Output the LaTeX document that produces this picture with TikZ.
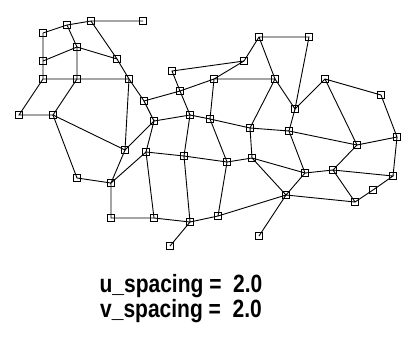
\documentclass[tikz,border=0pt]{standalone}
\usepackage{fontspec}
\newfontfamily\spacingfont[FakeStretch=0.84]{Liberation Sans}
\usepackage{tikz}

\begin{document}
\begin{tikzpicture}[
    x=1pt, y=-1pt,
    vertex/.style={draw, rectangle, minimum size=7pt, inner sep=0pt, line width=1pt},
    edge/.style={line width=0.9pt},
    caption/.style={font=\spacingfont\bfseries\fontsize{25}{25}\selectfont, inner sep=0pt, anchor=base}
]
\useasboundingbox (0,0) rectangle (409,338);

% Left part of the mesh
\foreach \name/\x/\y in {A/143/21, B/91/21, C/67/25, D/43/33, E/77/47, F/43/61,
    G/117/59, H/43/79, I/77/79, J/129/79, K/172/71, L/180/91, M/144/101,
    N/19/115, O/53/115, P/154/121, Q/190/115, R/125/150, S/146/152, T/184/156,
    U/77/178, V/111/183, W/111/218, X/154/218, Y/190/222, Z/170/246}
    \node[vertex] (\name) at (\x,\y) {};

% Right part of the mesh
\foreach \name/\x/\y in {a1/259/37, a2/309/37, a3/244/61, a4/214/79, a5/275/79,
    a6/325/79, a7/381/95, a8/295/109, a9/210/119, a10/250/128, a11/289/131,
    a12/357/145, a13/397/137, b1/227/162, b2/252/158, b3/305/173, b4/333/170,
    b5/393/176, b6/373/190, b7/286/195, b8/355/202, b9/218/216, b10/259/236}
    \node[vertex] (\name) at (\x,\y) {};

% Connections (left)
\draw[edge] (A.center) -- (B.center) -- (C.center) -- (D.center) -- (F.center) -- (H.center) -- (N.center) -- (O.center)
    -- (U.center) -- (V.center) -- (W.center) -- (X.center) -- (Y.center) -- (Z.center);
\draw[edge] (C.center) -- (E.center) -- (F.center);
\draw[edge] (B.center) -- (G.center) -- (E.center) -- (I.center);
\draw[edge] (H.center) -- (I.center) -- (J.center) -- (G.center);
\draw[edge] (I.center) -- (O.center) -- (R.center) -- (J.center);
\draw[edge] (R.center) -- (V.center) -- (S.center) -- (X.center);
\draw[edge] (J.center) -- (M.center) -- (L.center) -- (K.center) -- (a3.center);
\draw[edge] (M.center) -- (P.center) -- (Q.center) -- (L.center);
\draw[edge] (R.center) -- (P.center) -- (S.center) -- (T.center) -- (Y.center);
\draw[edge] (Q.center) -- (T.center) -- (b1.center);

% Connections (right)
\draw[edge] (a3.center) -- (a1.center) -- (a2.center) -- (a8.center) -- (a5.center) -- (a1.center);
\draw[edge] (Q.center) -- (a9.center) -- (a4.center) -- (L.center);
\draw[edge] (a3.center) -- (a4.center) -- (a5.center) -- (a10.center) -- (a9.center);
\draw[edge] (a10.center) -- (a11.center) -- (a8.center) -- (a6.center) -- (a7.center) -- (a13.center) -- (a12.center) -- (a6.center);
\draw[edge] (a11.center) -- (a12.center);
\draw[edge] (a9.center) -- (b1.center) -- (b2.center) -- (b3.center) -- (b4.center) -- (b5.center) -- (b6.center) -- (b8.center) -- (b4.center);
\draw[edge] (a10.center) -- (b2.center);
\draw[edge] (a11.center) -- (b3.center);
\draw[edge] (a12.center) -- (b4.center);
\draw[edge] (a13.center) -- (b5.center);
\draw[edge] (b2.center) -- (b7.center) -- (b3.center);
\draw[edge] (b7.center) -- (b8.center);
\draw[edge] (Y.center) -- (b9.center) -- (b1.center);
\draw[edge] (b9.center) -- (b7.center) -- (b10.center);

% Spacing values
\node[caption] (uspacing) at (181,292) {u\_spacing = \ 2.0};
\node[caption] (vspacing) at (181,317) {v\_spacing = \ 2.0};

\end{tikzpicture}
\end{document}
